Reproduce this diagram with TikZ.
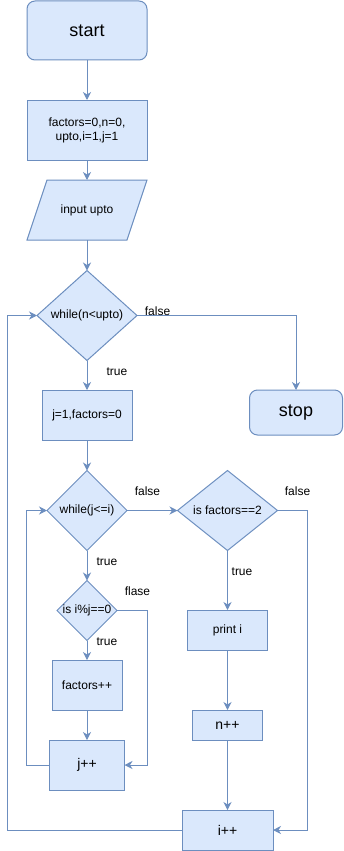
\documentclass[tikz,border=0pt]{standalone}
\usepackage{fontspec}
\setmainfont{Liberation Sans}
\usetikzlibrary{shapes.geometric,arrows.meta}
\definecolor{boxfill}{HTML}{DAE8FC}
\definecolor{boxline}{HTML}{6C8EBF}
\begin{document}
\begin{tikzpicture}[x=1pt,y=-1pt,
  every node/.style={inner sep=0pt,outer sep=0pt},
  base/.style={draw=boxline,fill=boxfill,line width=1pt,font=\fontsize{12}{14}\selectfont},
  proc/.style={base,rectangle},
  incr/.style={proc,font=\fontsize{14}{16}\selectfont},
  term/.style={base,rectangle,rounded corners=8pt,font=\fontsize{18}{21}\selectfont},
  dia/.style={base,diamond},
  txt/.style={font=\fontsize{12}{14}\selectfont,align=center},
  lbl/.style={font=\fontsize{12}{14}\selectfont,anchor=base},
  flow/.style={draw=boxline,line width=1pt,-{Stealth[length=8pt,width=8pt,inset=2.5pt]}},
  wire/.style={draw=boxline,line width=1pt}]
\useasboundingbox (0,0) rectangle (343,851);

% main column
\node[term,minimum width=120,minimum height=59] (start) at (87,30.5) {start};
\node[proc,minimum width=120,minimum height=60,align=center] (init) at (87,130) {factors=0,n=0,\\upto,i=1,j=1};
\draw[base] (27,240) -- (127,240) -- (147,180) -- (47,180) -- cycle;
\node[txt,minimum width=120,minimum height=60] (inp) at (87,210) {input upto};
\node[dia,minimum width=100,minimum height=90] (d1) at (87,315.5) {};
\node[txt] (d1t) at (d1) {while(n<upto)};
\node[term,minimum width=93,minimum height=45] (stop) at (296,412.5) {stop};
\node[proc,minimum width=90,minimum height=50] (j1) at (87,415) {j=1,factors=0};

% inner loop
\node[dia,minimum width=80,minimum height=80] (d2) at (87,510.5) {};
\node[txt] (d2t) at (d2) {while(j<=i)};
\node[dia,minimum width=60,minimum height=60] (d4) at (87,610.5) {};
\node[txt] (d4t) at (d4) {is i\%j==0};
\node[proc,minimum width=70,minimum height=50] (fpp) at (87,685) {factors++};
\node[incr,minimum width=75,minimum height=50] (jpp) at (87,765) {j++};

% right column
\node[dia,minimum width=100,minimum height=80] (d3) at (227.5,510.5) {};
\node[txt] (d3t) at (d3) {is factors==2};
\node[proc,minimum width=80,minimum height=40] (print) at (227.5,630) {print i};
\node[incr,minimum width=70,minimum height=30] (npp) at (227.5,725) {n++};
\node[incr,minimum width=91,minimum height=40] (ipp) at (227.5,830) {i++};

% connectors
\draw[flow] (start.south) -- (init.north);
\draw[flow] (init.south) -- (inp.north);
\draw[flow] (inp.south) -- (d1.north);
\draw[flow] (d1.south) -- (j1.north);
\draw[flow] (d1.east) -| (stop.north);
\draw[flow] (j1.south) -- (d2.north);
\draw[flow] (d2.east) -- (d3.west);
\draw[flow] (d2.south) -- (d4.north);
\draw[flow] (d4.south) -- (fpp.north);
\draw[flow] (fpp.south) -- (jpp.north);
\draw[flow] (d4.east) -- ++(30,0) |- (jpp.east);
\draw[flow] (jpp.west) -- ++(-23,0) |- (d2.west);
\draw[flow] (d3.south) -- (print.north);
\draw[flow] (print.south) -- (npp.north);
\draw[flow] (npp.south) -- (ipp.north);
\draw[flow] (d3.east) -- ++(30,0) |- (ipp.east);
\coordinate (loopL) at (7,830);
\draw[flow] (ipp.west) -- (loopL) |- (d1.west);

% branch labels
\node[lbl] (l1f) at (157.5,315) {false};
\node[lbl] (l1t) at (117,375) {true};
\node[lbl] (l2f) at (147.5,495) {false};
\node[lbl] (l3f) at (297.5,495) {false};
\node[lbl] (l2t) at (107,565) {true};
\node[lbl] (l4f) at (137.5,595) {flase};
\node[lbl] (l4t) at (107,645) {true};
\node[lbl] (l3t) at (242,575) {true};
\end{tikzpicture}
\end{document}
